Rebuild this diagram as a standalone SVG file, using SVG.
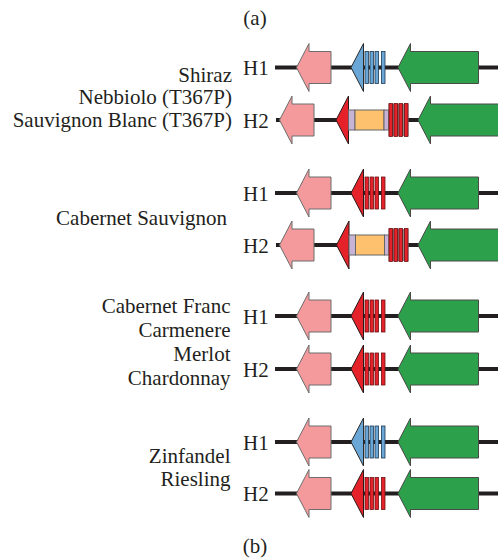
<svg xmlns="http://www.w3.org/2000/svg" width="498" height="558" viewBox="0 0 498 558">
<style>
text{font-family:"Liberation Serif","Times New Roman",serif;font-size:21px;fill:#231f20}
.lbl{text-anchor:end}
.cap{text-anchor:middle}
.ln{stroke:#231f20;stroke-width:4;fill:none}
.pink{fill:#f49a9c;stroke:#6d6d6d;stroke-width:1}
.green{fill:#2ca04a;stroke:#4a4a4a;stroke-width:1}
.red{fill:#e52229;stroke:#2a1a1a;stroke-width:1}
.blue{fill:#6aa6d6;stroke:#2a2a2a;stroke-width:1}
.rbar{fill:#e52229;stroke:#6b1214;stroke-width:0.8}
.bbar{fill:#6aa6d6;stroke:#1e3850;stroke-width:0.8}
.gry{fill:#8a8a8a}
.pur{fill:#c6b3d5;stroke:#666;stroke-width:1}
.org{fill:#fec26e;stroke:#666;stroke-width:1}
</style>
<defs>
<path id="pk" class="pink" d="M0,0 L12.5,-24 L12.5,-16 L34.5,-16 L34.5,16 L12.5,16 L12.5,24 Z"/>
<path id="gr1" class="green" d="M0,0 L12.5,-24 L12.5,-16 L80.5,-16 L80.5,16 L12.5,16 L12.5,24 Z"/>
<path id="gr2" class="green" d="M0,0 L12.5,-24 L12.5,-16 L95,-16 L95,16 L12.5,16 L12.5,24 Z"/>
<path id="triR" class="red" d="M0,0 L12.5,-24 L12.5,24 Z"/>
<path id="triB" class="blue" d="M0,0 L12.5,-24 L12.5,24 Z"/>
<g id="barsB">
<rect class="bbar" x="0" y="-16" width="3.5" height="32"/>
<rect class="bbar" x="5" y="-16" width="3.5" height="32"/>
<rect class="bbar" x="10" y="-16" width="3.5" height="32"/>
<rect class="bbar" x="16.5" y="-16" width="3.5" height="32"/>
</g>
<g id="barsR">
<rect class="rbar" x="0" y="-16" width="3.5" height="32"/>
<rect class="rbar" x="5" y="-16" width="3.5" height="32"/>
<rect class="rbar" x="10" y="-16" width="3.5" height="32"/>
<rect class="rbar" x="16.5" y="-16" width="3.5" height="32"/>
</g>
<g id="barsR2">
<rect class="gry" x="0" y="-16" width="20" height="32"/>
<rect class="rbar" x="0.5" y="-16.5" width="3.5" height="33"/>
<rect class="rbar" x="5.5" y="-16.5" width="3.5" height="33"/>
<rect class="rbar" x="10.5" y="-16.5" width="3.5" height="33"/>
<rect class="rbar" x="16" y="-16.5" width="3.5" height="33"/>
</g>
<g id="ins">
<rect class="pur" x="0" y="-10" width="6.5" height="20"/>
<rect class="org" x="6.5" y="-10" width="29" height="20"/>
<rect class="pur" x="35.5" y="-10" width="4.5" height="20"/>
</g>
</defs>
<rect width="498" height="558" fill="#ffffff"/>
<g id="connectors">
<line class="ln" x1="275" y1="67.5" x2="498" y2="67.5"/>
<line class="ln" x1="276" y1="120" x2="498" y2="120"/>
<line class="ln" x1="275" y1="193" x2="498" y2="193"/>
<line class="ln" x1="276" y1="245" x2="498" y2="245"/>
<line class="ln" x1="275" y1="316" x2="498" y2="316"/>
<line class="ln" x1="275" y1="369" x2="498" y2="369"/>
<line class="ln" x1="275" y1="442" x2="498" y2="442"/>
<line class="ln" x1="275" y1="493.5" x2="498" y2="493.5"/>
</g>
<text class="cap" x="255" y="25">(a)</text>
<text class="cap" x="255" y="553">(b)</text>
<g id="group1-labels">
<text class="lbl" x="232" y="81.5">Shiraz</text>
<text class="lbl" x="232" y="104">Nebbiolo (T367P)</text>
<text class="lbl" x="232" y="127">Sauvignon Blanc (T367P)</text>
</g>
<g id="g1-h1">
<text x="243" y="75">H1</text>
<use href="#pk" transform="translate(296.5,67.5)"/>
<use href="#triB" transform="translate(351,67.5)"/>
<use href="#barsB" transform="translate(365,67.5)"/>
<use href="#gr1" transform="translate(398,67.5)"/>
</g>
<g id="g1-h2">
<text x="243" y="128">H2</text>
<use href="#pk" transform="translate(279.5,120)"/>
<use href="#triR" transform="translate(336,120)"/>
<use href="#ins" transform="translate(348.5,120)"/>
<use href="#barsR2" transform="translate(388.5,120)"/>
<use href="#gr2" transform="translate(418,120)"/>
</g>
<g id="group2-labels">
<text class="lbl" x="227" y="225">Cabernet Sauvignon</text>
</g>
<g id="g2-h1">
<text x="243" y="200.5">H1</text>
<use href="#pk" transform="translate(296.5,193)"/>
<use href="#triR" transform="translate(351,193)"/>
<use href="#barsR" transform="translate(365,193)"/>
<use href="#gr1" transform="translate(398,193)"/>
</g>
<g id="g2-h2">
<text x="243" y="252.5">H2</text>
<use href="#pk" transform="translate(279.5,245)"/>
<use href="#triR" transform="translate(336.5,245)"/>
<use href="#ins" transform="translate(349,245)"/>
<use href="#barsR2" transform="translate(388.5,245)"/>
<use href="#gr2" transform="translate(418,245)"/>
</g>
<g id="group3-labels">
<text class="lbl" x="230.5" y="313">Cabernet Franc</text>
<text class="lbl" x="230.5" y="337">Carmenere</text>
<text class="lbl" x="230.5" y="361">Merlot</text>
<text class="lbl" x="230.5" y="385">Chardonnay</text>
</g>
<g id="g3-h1">
<text x="243" y="323.5">H1</text>
<use href="#pk" transform="translate(296.5,316)"/>
<use href="#triR" transform="translate(351,316)"/>
<use href="#barsR" transform="translate(365,316)"/>
<use href="#gr1" transform="translate(398,316)"/>
</g>
<g id="g3-h2">
<text x="243" y="376.5">H2</text>
<use href="#pk" transform="translate(296.5,369)"/>
<use href="#triR" transform="translate(351,369)"/>
<use href="#barsR" transform="translate(365,369)"/>
<use href="#gr1" transform="translate(398,369)"/>
</g>
<g id="group4-labels">
<text class="lbl" x="230.5" y="463">Zinfandel</text>
<text class="lbl" x="230.5" y="486">Riesling</text>
</g>
<g id="g4-h1">
<text x="243" y="449.5">H1</text>
<use href="#pk" transform="translate(296.5,442)"/>
<use href="#triB" transform="translate(351,442)"/>
<use href="#barsB" transform="translate(365,442)"/>
<use href="#gr1" transform="translate(398,442)"/>
</g>
<g id="g4-h2">
<text x="243" y="501">H2</text>
<use href="#pk" transform="translate(296.5,493.5)"/>
<use href="#triR" transform="translate(351,493.5)"/>
<use href="#barsR" transform="translate(365,493.5)"/>
<use href="#gr1" transform="translate(398,493.5)"/>
</g>
</svg>
